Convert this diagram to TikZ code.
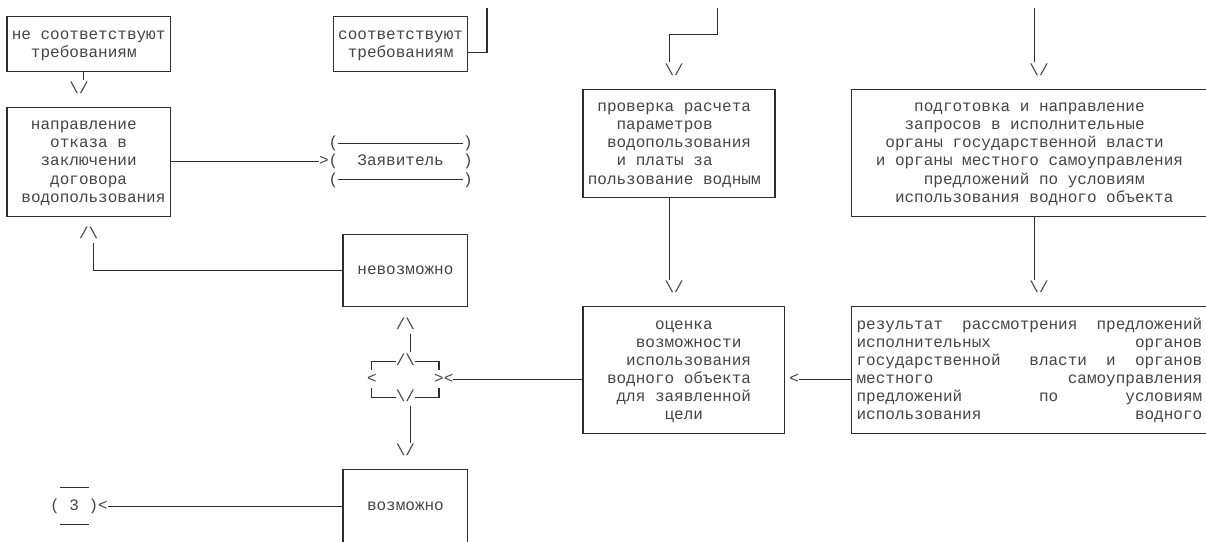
\documentclass[tikz,border=0pt]{standalone}
\usepackage{fontspec}
\setmonofont{Liberation Mono}
\usetikzlibrary{fit}
\definecolor{ink}{HTML}{2E2E2E}
\definecolor{txtink}{HTML}{444444}
\newcommand\colx[1]{(7+9.6*(#1))}
\newcommand\rowy[1]{(16.7+18.125*(#1))}
\tikzset{
  x=0.75pt, y=-0.75pt,
  ln/.style={draw=ink, line width=0.8pt},
  boxst/.style={draw=ink, line width=0.8pt, inner sep=0pt, outer sep=0pt, rectangle},
  txt/.style={anchor=base west, inner sep=0pt, outer sep=0pt, text=txtink, font=\ttfamily\fontsize{12pt}{13.5pt}\selectfont},
}
\newcommand\txtl[4]{\node[txt] (#1) at ({\colx{#2}-4.8},{\rowy{#3}+4.2}) {#4};}
\newcommand\mybox[5]{%
  \coordinate (#1-nw) at ({\colx{#2}},{\rowy{#3}});
  \coordinate (#1-se) at ({\colx{#4}},{\rowy{#5}});
  \node[boxst, fit=(#1-nw)(#1-se)] (#1) {};}
\begin{document}
\begin{tikzpicture}
\useasboundingbox (0,0) rectangle (1206,542);
\clip (0,0) rectangle (1206,542);
% boxes
\mybox{A}{0}{0}{17}{3}
\mybox{B}{0}{5}{17}{11}
\mybox{C}{34}{0}{48}{3}
\mybox{D}{35}{12}{48}{16}
\mybox{E}{35}{25}{48}{29.4}
\mybox{F}{60}{4}{80}{10}
\mybox{G}{60}{16}{81}{23}
\mybox{H}{88}{4}{125}{11}
\mybox{I}{88}{16}{125}{23}
% box texts
\txtl{a1}{1}{1}{не соответствуют}
\txtl{a2}{3}{2}{требованиям}
\txtl{b1}{3}{6}{направление}
\txtl{b2}{5}{7}{отказа в}
\txtl{b3}{4}{8}{заключении}
\txtl{b4}{5}{9}{договора}
\txtl{b5}{2}{10}{водопользования}
\txtl{c1}{35}{1}{соответствуют}
\txtl{c2}{36}{2}{требованиям}
\txtl{d1}{37}{14}{невозможно}
\txtl{e1}{38}{27}{возможно}
\txtl{f1}{62}{5}{проверка расчета}
\txtl{f2}{64}{6}{параметров}
\txtl{f3}{63}{7}{водопользования}
\txtl{f4}{64}{8}{и платы за}
\txtl{f5}{61}{9}{пользование водным}
\txtl{g1}{68}{17}{оценка}
\txtl{g2}{66}{18}{возможности}
\txtl{g3}{65}{19}{использования}
\txtl{g4}{63}{20}{водного объекта}
\txtl{g5}{64}{21}{для заявленной}
\txtl{g6}{69}{22}{цели}
\txtl{h1}{95}{5}{подготовка и направление}
\txtl{h2}{94}{6}{запросов в исполнительные}
\txtl{h3}{92}{7}{органы государственной власти}
\txtl{h4}{91}{8}{и органы местного самоуправления}
\txtl{h5}{96}{9}{предложений по условиям}
\txtl{h6}{93}{10}{использования водного объекта}
\txtl{i1a}{89}{17}{результат}
\txtl{i1b}{100}{17}{рассмотрения}
\txtl{i1c}{114}{17}{предложений}
\txtl{i2a}{89}{18}{исполнительных}
\txtl{i2b}{118}{18}{органов}
\txtl{i3a}{89}{19}{государственной}
\txtl{i3b}{107}{19}{власти}
\txtl{i3c}{115}{19}{и}
\txtl{i3d}{118}{19}{органов}
\txtl{i4a}{89}{20}{местного}
\txtl{i4b}{111}{20}{самоуправления}
\txtl{i5a}{89}{21}{предложений}
\txtl{i5b}{108}{21}{по}
\txtl{i5c}{117}{21}{условиям}
\txtl{i6a}{89}{22}{использования}
\txtl{i6b}{118}{22}{водного}
% applicant terminal
\txtl{zo1}{34}{7}{(}
\txtl{zc1}{48}{7}{)}
\txtl{zo2}{34}{8}{(}
\txtl{Z}{37}{8}{Заявитель}
\txtl{zc2}{48}{8}{)}
\txtl{zo3}{34}{9}{(}
\txtl{zc3}{48}{9}{)}
\draw[ln] ({\colx{35}-4.8},{\rowy{7}}) -- ({\colx{47}+4.8},{\rowy{7}});
\draw[ln] ({\colx{35}-4.8},{\rowy{9}}) -- ({\colx{47}+4.8},{\rowy{9}});
% connector 3
\txtl{qo}{5}{27}{(}
\txtl{Q}{7}{27}{3}
\txtl{qc}{9}{27}{)}
\draw[ln] ({\colx{6}-4.8},{\rowy{26}}) -- ({\colx{8}+4.8},{\rowy{26}});
\draw[ln] ({\colx{6}-4.8},{\rowy{28}}) -- ({\colx{8}+4.8},{\rowy{28}});
% arrow glyphs
\txtl{arA}{7}{4}{\textbackslash/}
\txtl{arZ}{33}{8}{>}
\txtl{arB}{8}{12}{/\textbackslash}
\txtl{arD}{41}{17}{/\textbackslash}
\txtl{dmt}{41}{19}{/\textbackslash}
\txtl{dml}{38}{20}{<}
\txtl{dmr}{45}{20}{>}
\txtl{arM}{46}{20}{<}
\txtl{dmb}{41}{21}{\textbackslash/}
\txtl{arE}{41}{24}{\textbackslash/}
\txtl{arQ}{10}{27}{<}
\txtl{arF}{69}{3}{\textbackslash/}
\txtl{arG}{69}{15}{\textbackslash/}
\txtl{arH}{107}{3}{\textbackslash/}
\txtl{arI}{107}{15}{\textbackslash/}
\txtl{arGI}{82}{20}{<}
% decision diamond
\draw[ln] ({\colx{40}+4.8},{\rowy{19}}) -- ({\colx{38}},{\rowy{19}}) -- ({\colx{38}},{\rowy{19}+9.06});
\draw[ln] ({\colx{43}-4.8},{\rowy{19}}) -- ({\colx{45}},{\rowy{19}}) -- ({\colx{45}},{\rowy{19}+9.06});
\draw[ln] ({\colx{40}+4.8},{\rowy{21}}) -- ({\colx{38}},{\rowy{21}}) -- ({\colx{38}},{\rowy{21}-9.06});
\draw[ln] ({\colx{43}-4.8},{\rowy{21}}) -- ({\colx{45}},{\rowy{21}}) -- ({\colx{45}},{\rowy{21}-9.06});
% connectors
\coordinate (ab) at ({\colx{8}},{\rowy{3}+8.5});
\draw[ln] (A.south -| ab) -- (ab);
\coordinate (bz) at ({\colx{33}-4.8},{\rowy{8}});
\draw[ln] (B.east |- bz) -- (bz);
\coordinate (c2) at ({\colx{50}},{\rowy{2}});
\coordinate (c2t) at ({\colx{50}},7.6);
\draw[ln] (C.east |- c2) -- (c2) -- (c2t);
\coordinate (d9) at ({\colx{9}},{\rowy{14}});
\coordinate (d9t) at ({\colx{9}},{\rowy{13}-9.06});
\draw[ln] (D.west |- d9) -- (d9) -- (d9t);
\coordinate (m1) at ({\colx{42}},{\rowy{18}-9.06});
\coordinate (m2) at ({\colx{42}},{\rowy{18}+9.06});
\draw[ln] (m1) -- (m2);
\coordinate (m3) at ({\colx{42}},{\rowy{22}-9.06});
\coordinate (m4) at ({\colx{42}},{\rowy{23}+9.06});
\draw[ln] (m3) -- (m4);
\coordinate (g20) at ({\colx{47}-4.8},{\rowy{20}});
\draw[ln] (G.west |- g20) -- (g20);
\coordinate (q11) at ({\colx{11}-4.8},{\rowy{27}});
\draw[ln] (E.west |- q11) -- (q11);
\coordinate (t74) at ({\colx{74}},7.6);
\coordinate (t74b) at ({\colx{74}},{\rowy{1}});
\coordinate (t69) at ({\colx{69}},{\rowy{1}});
\coordinate (t69b) at ({\colx{69}},{\rowy{2}+9.06});
\draw[ln] (t74) -- (t74b) -- (t69) -- (t69b);
\coordinate (fg) at ({\colx{69}},{\rowy{14}+9.06});
\draw[ln] (F.south -| fg) -- (fg);
\coordinate (t107) at ({\colx{107}},7.6);
\coordinate (t107b) at ({\colx{107}},{\rowy{2}+9.06});
\draw[ln] (t107) -- (t107b);
\coordinate (hi) at ({\colx{107}},{\rowy{14}+9.06});
\draw[ln] (H.south -| hi) -- (hi);
\coordinate (ig) at ({\colx{83}-4.8},{\rowy{20}});
\draw[ln] (I.west |- ig) -- (ig);
\end{tikzpicture}
\end{document}
